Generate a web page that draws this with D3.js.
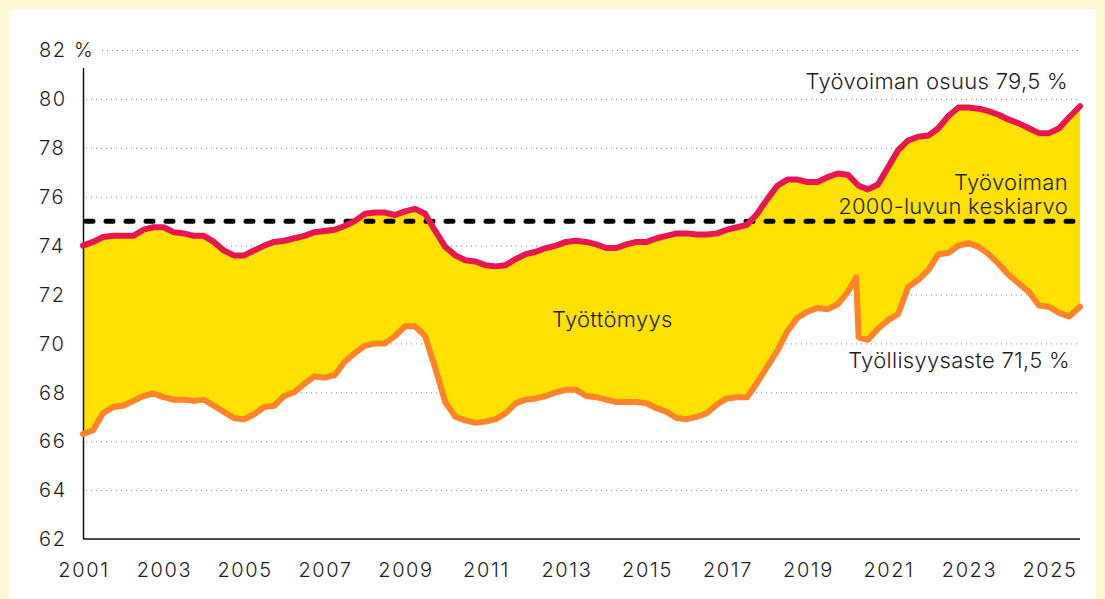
<!DOCTYPE html>
<html lang="fi">
<head>
<meta charset="utf-8"/>
<style>
body { margin: 0; background: #fff7d1; }
svg { display: block; font-family: Inter, "Noto Sans", sans-serif; }
.grid line { stroke: #8a8a8a; stroke-width: 1; stroke-dasharray: 1,4; }
.tick-label { font-size: 20px; font-weight: 300; letter-spacing: 1.6px; fill: #1e1e1e; }
.note { font-size: 22px; font-weight: 300; letter-spacing: 0.3px; fill: #1e1e1e; }
</style>
</head>
<body>
<svg width="1105" height="599"></svg>
<script src="https://d3js.org/d3.v7.min.js"></script>
<script>

// decimal years (quarterly, with two extra points around the 2020 drop)
var years = [
  2001, 2001.25, 2001.5, 2001.75,
  2002, 2002.25, 2002.5, 2002.75,
  2003, 2003.25, 2003.5, 2003.75,
  2004, 2004.25, 2004.5, 2004.75,
  2005, 2005.25, 2005.5, 2005.75,
  2006, 2006.25, 2006.5, 2006.75,
  2007, 2007.25, 2007.5, 2007.75,
  2008, 2008.25, 2008.5, 2008.75,
  2009, 2009.25, 2009.5, 2009.75,
  2010, 2010.25, 2010.5, 2010.75,
  2011, 2011.25, 2011.5, 2011.75,
  2012, 2012.25, 2012.5, 2012.75,
  2013, 2013.25, 2013.5, 2013.75,
  2014, 2014.25, 2014.5, 2014.75,
  2015, 2015.25, 2015.5, 2015.75,
  2016, 2016.25, 2016.5, 2016.75,
  2017, 2017.25, 2017.5, 2017.75,
  2018, 2018.25, 2018.5, 2018.75,
  2019, 2019.25, 2019.5, 2019.75,
  2020, 2020.21, 2020.27, 2020.5, 2020.75,
  2021, 2021.25, 2021.5, 2021.75,
  2022, 2022.25, 2022.5, 2022.75,
  2023, 2023.25, 2023.5, 2023.75,
  2024, 2024.25, 2024.5, 2024.75,
  2025, 2025.25, 2025.5, 2025.77
];

// Työvoiman osuus (%)
var labourShare = [
  74.0, 74.15, 74.35, 74.4,
  74.4, 74.4, 74.65, 74.75,
  74.75, 74.55, 74.5, 74.4,
  74.4, 74.15, 73.8, 73.6,
  73.6, 73.8, 74.0, 74.15,
  74.2, 74.3, 74.4, 74.55,
  74.6, 74.65, 74.8, 75.0,
  75.3, 75.35, 75.35, 75.25,
  75.4, 75.5, 75.3, 74.6,
  73.95, 73.6, 73.4, 73.35,
  73.2, 73.15, 73.2, 73.45,
  73.65, 73.75, 73.9, 74.0,
  74.15, 74.2, 74.15, 74.05,
  73.9, 73.9, 74.05, 74.15,
  74.15, 74.3, 74.4, 74.5,
  74.5, 74.45, 74.45, 74.5,
  74.65, 74.75, 74.85, 75.3,
  75.9, 76.45, 76.7, 76.7,
  76.6, 76.6, 76.8, 76.95,
  76.9, 76.55, 76.45, 76.3, 76.5,
  77.2, 77.9, 78.3, 78.45,
  78.5, 78.8, 79.3, 79.65,
  79.65, 79.6, 79.5, 79.35,
  79.15, 79.0, 78.8, 78.6,
  78.6, 78.8, 79.25, 79.7
];

// Työllisyysaste (%)
var employment = [
  66.3, 66.45, 67.15, 67.4,
  67.45, 67.65, 67.85, 67.95,
  67.8, 67.7, 67.7, 67.65,
  67.7, 67.45, 67.2, 66.95,
  66.9, 67.1, 67.4, 67.45,
  67.85, 68.0, 68.35, 68.65,
  68.6, 68.7, 69.25, 69.6,
  69.9, 70.0, 70.0, 70.3,
  70.7, 70.7, 70.3, 69.0,
  67.6, 67.0, 66.85, 66.75,
  66.8, 66.9, 67.15, 67.55,
  67.7, 67.75, 67.85, 68.0,
  68.1, 68.1, 67.85, 67.8,
  67.7, 67.6, 67.6, 67.6,
  67.55, 67.35, 67.2, 66.95,
  66.9, 67.0, 67.15, 67.5,
  67.75, 67.8, 67.8, 68.4,
  69.05, 69.7, 70.5, 71.05,
  71.3, 71.45, 71.4, 71.6,
  72.1, 72.7, 70.25, 70.15, 70.6,
  70.95, 71.2, 72.3, 72.6,
  73.0, 73.65, 73.7, 74.0,
  74.1, 73.95, 73.65, 73.25,
  72.8, 72.45, 72.1, 71.55,
  71.5, 71.25, 71.1, 71.5
];

var average2000s = 75;
var yTicks = [62, 64, 66, 68, 70, 72, 74, 76, 78, 80, 82];
var xTicks = [2001, 2003, 2005, 2007, 2009, 2011, 2013, 2015, 2017, 2019, 2021, 2023, 2025];

var svg = d3.select("svg");

// white panel on the cream background
svg.append("rect")
  .attr("x", 9).attr("y", 9)
  .attr("width", 1087).attr("height", 600)
  .attr("rx", 2)
  .attr("fill", "#fff");

var x = d3.scaleLinear().domain([2001, 2025.77]).range([83, 1080]);
var y = d3.scaleLinear().domain([62, 82]).range([539, 50]);

var data = years.map(function(t, i) {
  return { t: t, hi: labourShare[i], lo: employment[i] };
});

// dotted gridlines
svg.append("g").attr("class", "grid")
  .selectAll("line")
  .data(yTicks.slice(1))
  .enter().append("line")
  .attr("x1", function(d) { return d === 82 ? 102 : 86; })
  .attr("x2", 1080)
  .attr("y1", function(d) { return y(d) + 0.5; })
  .attr("y2", function(d) { return y(d) + 0.5; });

// y tick labels
svg.append("g")
  .selectAll("text")
  .data(yTicks)
  .enter().append("text")
  .attr("class", "tick-label")
  .attr("x", 39)
  .attr("y", function(d) { return y(d); })
  .attr("dy", "0.36em")
  .text(function(d) { return d === 82 ? "82 %" : d; });

// x tick labels
svg.append("g")
  .selectAll("text")
  .data(xTicks)
  .enter().append("text")
  .attr("class", "tick-label")
  .attr("x", function(d) { return x(d) + 1; })
  .attr("y", 577)
  .attr("text-anchor", "middle")
  .text(function(d) { return d; });

// unemployment band between the two series
svg.append("path")
  .datum(data)
  .attr("fill", "#ffe100")
  .attr("d", d3.area()
    .x(function(d) { return x(d.t); })
    .y0(function(d) { return y(d.lo); })
    .y1(function(d) { return y(d.hi); }));

// axes lines
svg.append("line")
  .attr("x1", 83.5).attr("x2", 83.5)
  .attr("y1", 68).attr("y2", 539)
  .attr("stroke", "#111").attr("stroke-width", 1.5);
svg.append("line")
  .attr("x1", 83).attr("x2", 1080)
  .attr("y1", 539).attr("y2", 539)
  .attr("stroke", "#111").attr("stroke-width", 1.5);

// 2000s average, dashed
svg.append("line")
  .attr("x1", x(2001) + 3).attr("x2", x(2025.77) - 2)
  .attr("y1", y(average2000s)).attr("y2", y(average2000s))
  .attr("stroke", "#000")
  .attr("stroke-width", 5)
  .attr("stroke-linecap", "round")
  .attr("stroke-dasharray", "7,13");

var line = d3.line().x(function(d) { return x(d.t); });

svg.append("path")
  .datum(data)
  .attr("fill", "none")
  .attr("stroke", "#ff8329")
  .attr("stroke-width", 6)
  .attr("stroke-linejoin", "round")
  .attr("stroke-linecap", "round")
  .attr("d", line.y(function(d) { return y(d.lo); }));

svg.append("path")
  .datum(data)
  .attr("fill", "none")
  .attr("stroke", "#e8174f")
  .attr("stroke-width", 6)
  .attr("stroke-linejoin", "round")
  .attr("stroke-linecap", "round")
  .attr("d", line.y(function(d) { return y(d.hi); }));

// annotations
var notes = [
  { text: "Työvoiman osuus 79,5 %", x: 1068, y: 89, anchor: "end" },
  { text: "Työvoiman", x: 1068, y: 190, anchor: "end" },
  { text: "2000-luvun keskiarvo", x: 1068, y: 214, anchor: "end" },
  { text: "Työttömyys", x: 552, y: 327, anchor: "start" },
  { text: "Työllisyysaste 71,5 %", x: 1070, y: 368, anchor: "end" }
];

svg.append("g")
  .selectAll("text")
  .data(notes)
  .enter().append("text")
  .attr("class", "note")
  .attr("x", function(d) { return d.x; })
  .attr("y", function(d) { return d.y; })
  .attr("text-anchor", function(d) { return d.anchor; })
  .text(function(d) { return d.text; });

</script>
</body>
</html>
